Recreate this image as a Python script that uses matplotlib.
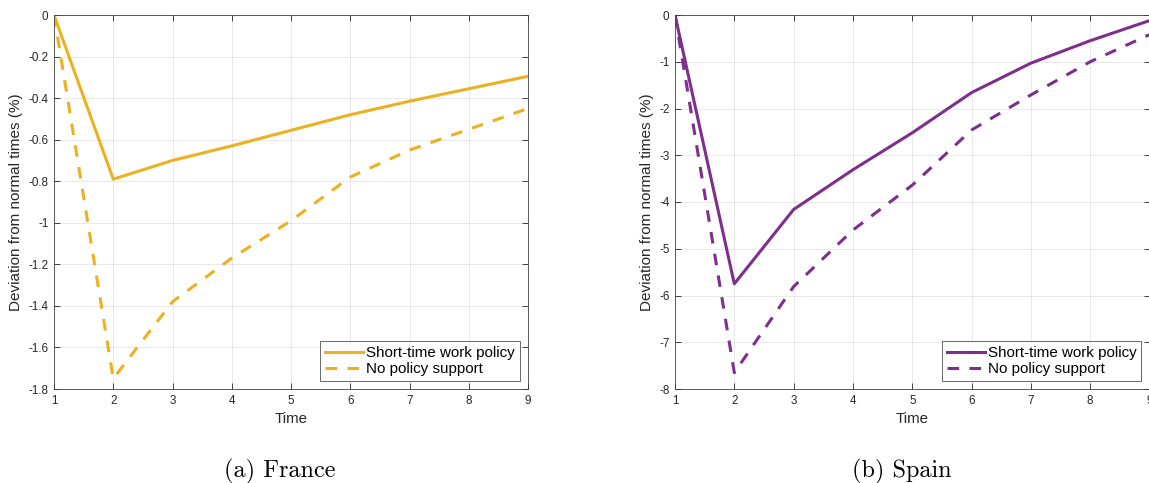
import matplotlib
matplotlib.use("Agg")
import matplotlib.pyplot as plt

time = [1, 2, 3, 4, 5, 6, 7, 8, 9]
france_stw = [0, -0.79, -0.70, -0.63, -0.555, -0.48, -0.415, -0.355, -0.295]
france_none = [0, -1.75, -1.38, -1.17, -0.99, -0.78, -0.65, -0.55, -0.45]
spain_stw = [0, -5.75, -4.16, -3.31, -2.52, -1.66, -1.03, -0.55, -0.12]
spain_none = [0, -7.65, -5.81, -4.6, -3.64, -2.46, -1.71, -1.0, -0.42]
france_yticks = [0, -0.2, -0.4, -0.6, -0.8, -1, -1.2, -1.4, -1.6, -1.8]
spain_yticks = [0, -1, -2, -3, -4, -5, -6, -7, -8]
legend_labels = ["Short-time work policy", "No policy support"]
captions = ["(a) France", "(b) Spain"]

ORANGE = "#EDB120"
PURPLE = "#7E2F8E"
W, H = 1149, 483
fig = plt.figure(figsize=(W / 100, H / 100), dpi=100)
plt.rcParams["font.family"] = ["Liberation Sans", "DejaVu Sans"]

def fmt(v):
    return "%g" % v

def make_axes(rect, y1, y2, ylim, yticks, color, cap, capx):
    l, t, r, b = rect
    ax = fig.add_axes([l / W, 1 - b / H, (r - l) / W, (b - t) / H])
    ax.plot(time, y1, color=color, lw=2.2)
    ax.plot(time, y2, color=color, lw=2.2, ls=(0, (3.8, 3.4)))
    ax.set_xlim(1, 9)
    ax.set_ylim(*ylim)
    ax.set_xticks(time)
    ax.set_xticklabels([str(t) for t in time])
    ax.set_yticks(yticks)
    ax.set_yticklabels([fmt(v) for v in yticks])
    ax.tick_params(direction="in", length=4, width=0.6, labelsize=8.4,
                   colors="#262626", top=True, right=True, pad=4)
    ax.grid(True, color="#000000", alpha=0.1, lw=0.6)
    for s in ax.spines.values():
        s.set_color("#404040")
        s.set_linewidth(0.6)
    ax.set_xlabel("Time", fontsize=10.8, color="#262626", labelpad=4)
    ax.set_ylabel("Deviation from normal times (%)", fontsize=11,
                  color="#262626", labelpad=4)
    leg = ax.legend(legend_labels, loc="lower right", fontsize=10.9,
                    frameon=True, fancybox=False, edgecolor="#262626",
                    handlelength=2.5, handletextpad=0.2, borderpad=0.32,
                    labelspacing=0.12, borderaxespad=0.55)
    leg.get_frame().set_linewidth(0.6)
    fig.text(capx / W, 1 - 477 / H, cap, fontsize=17.5, family="cmr10",
             ha="center", va="baseline")
    return ax

make_axes((54, 15, 528, 389), france_stw, france_none, (-1.8, 0),
          france_yticks, ORANGE, captions[0], 280)
make_axes((675, 15, 1149.5, 389), spain_stw, spain_none, (-8, 0),
          spain_yticks, PURPLE, captions[1], 901.5)

fig.savefig("out.png", dpi=100)
